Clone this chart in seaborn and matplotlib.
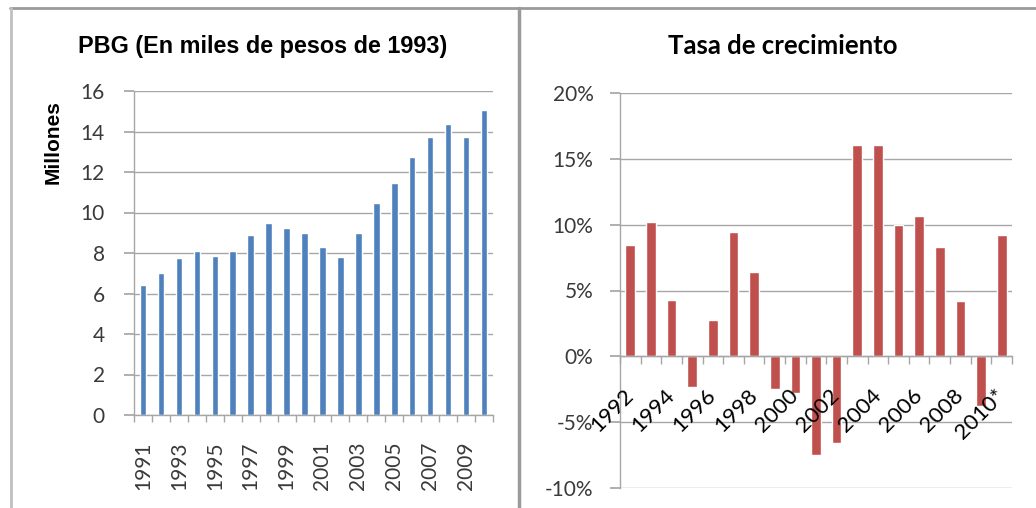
import matplotlib
matplotlib.use("Agg")
import matplotlib.pyplot as plt
import matplotlib.transforms as mtrans
import seaborn as sns
import numpy as np
import pandas as pd
from matplotlib.lines import Line2D

# ---------------- data ----------------
pbg_years = [str(y) for y in range(1991, 2011)]
pbg_values = [6.42, 7.03, 7.73, 8.09, 7.86, 8.12, 8.87, 9.46, 9.21, 9.01,
              8.32, 7.78, 9.01, 10.45, 11.47, 12.73, 13.75, 14.36, 13.75, 15.06]
pbg_yticks = [0, 2, 4, 6, 8, 10, 12, 14, 16]

tasa_years = [str(y) for y in range(1992, 2010)] + ["2010*"]
tasa_values = [8.44, 10.24, 4.31, -2.33, 2.79, 9.45, 6.44, -2.51, -2.76, -7.53,
               -6.62, 16.05, 16.05, 9.96, 10.67, 8.29, 4.18, -3.78, 9.20]
tasa_yticks = [-10, -5, 0, 5, 10, 15, 20]
tasa_yticklabels = ["-10%", "-5%", "0%", "5%", "10%", "15%", "20%"]

title_left = "PBG (En miles de pesos de 1993)"
title_right = "Tasa de crecimiento"
ylabel_left = "Millones"

BLUE = "#4F81BD"
RED = "#C0504D"
GRID = "#a6a6a6"
TXT = "#3a3a3a"

sns.set_theme(style="white")
plt.rcParams['font.family'] = ['Lato', 'DejaVu Sans']

W, H = 1036, 508
fig = plt.figure(figsize=(W / 100, H / 100), dpi=100)
fig.patch.set_facecolor("white")

def fx(px):
    return px / W

def fy(py):
    return 1 - py / H

# ---------------- frames ----------------
fc = "#9a9a9a"
fig.add_artist(Line2D([fx(10), 1], [fy(8), fy(8)], color=fc, lw=2, transform=fig.transFigure))
fig.add_artist(Line2D([fx(11), fx(11)], [fy(8), 0], color="#c0c0c0", lw=2, transform=fig.transFigure))
fig.add_artist(Line2D([fx(519), fx(519)], [fy(8), 0], color=fc, lw=2.5, transform=fig.transFigure))

# ---------------- left chart ----------------
axL = fig.add_axes([fx(134), fy(415), fx(493) - fx(134), fy(91) - fy(415)])
dfL = pd.DataFrame({"year": pbg_years, "value": pbg_values})
sns.barplot(data=dfL, x="year", y="value", color=BLUE, saturation=1, width=0.36, ax=axL)
axL.set_xlim(-0.5, len(pbg_years) - 0.5)
axL.set_ylim(0, 16)
axL.set_yticks(pbg_yticks)
axL.set_yticklabels([str(v) for v in pbg_yticks])
axL.grid(axis="y", color=GRID, lw=1)
axL.set_axisbelow(True)
for s in ["top", "right"]:
    axL.spines[s].set_visible(False)
for s in ["left", "bottom"]:
    axL.spines[s].set_color(GRID)
    axL.spines[s].set_linewidth(1)
maj = np.arange(0, len(pbg_years), 2)
axL.set_xticks(maj)
axL.set_xticklabels([pbg_years[i] for i in maj], rotation=90, fontsize=15, color=TXT)
axL.set_xticks(np.arange(-0.5, len(pbg_years)), minor=True)
axL.tick_params(axis="x", which="major", length=0, pad=19)
axL.tick_params(axis="x", which="minor", length=5, color=GRID, direction="out", bottom=True)
axL.tick_params(axis="y", length=7, color=GRID, direction="out", left=True, labelsize=15,
                labelcolor=TXT, pad=14)
axL.set_xlabel("")
axL.set_ylabel(ylabel_left, family=["Liberation Sans", "DejaVu Sans"], fontweight="bold",
               fontsize=15, color="black")
axL.yaxis.set_label_coords((63 - 134) / (493 - 134), (415 - 142) / (415 - 91))
fig.text(fx(263), fy(46), title_left, ha="center", va="center",
         family=["Liberation Sans", "DejaVu Sans"],
         fontweight="bold", fontsize=16.8, color="black")

# ---------------- right chart ----------------
axR = fig.add_axes([fx(620), fy(488), fx(1012) - fx(620), fy(93) - fy(488)])
dfR = pd.DataFrame({"year": tasa_years, "value": tasa_values})
sns.barplot(data=dfR, x="year", y="value", color=RED, saturation=1, width=0.47, ax=axR)
axR.set_xlim(-0.5, len(tasa_years) - 0.5)
axR.set_ylim(-10, 20)
axR.set_yticks(tasa_yticks)
axR.set_yticklabels(tasa_yticklabels)
axR.grid(axis="y", color=GRID, lw=1)
axR.set_axisbelow(True)
axR.xaxis.set_zorder(4)
for s in ["top", "right"]:
    axR.spines[s].set_visible(False)
axR.spines["bottom"].set_position(("data", 0))
for s in ["left", "bottom"]:
    axR.spines[s].set_color(GRID)
    axR.spines[s].set_linewidth(1)
majR = np.arange(0, len(tasa_years), 2)
axR.set_xticks(majR)
axR.set_xticklabels([tasa_years[i] for i in majR], rotation=45, ha="right",
                    rotation_mode="default", fontsize=16, color="black")
axR.set_xticks(np.arange(-0.5, len(tasa_years)), minor=True)
axR.tick_params(axis="x", which="major", length=0, pad=21)
axR.tick_params(axis="x", which="minor", length=6, color=GRID, direction="out", bottom=True)
axR.tick_params(axis="y", length=7, color=GRID, direction="out", left=True, labelsize=15,
                labelcolor=TXT, pad=12)
shift = mtrans.ScaledTranslation(7 / 100, 0, fig.dpi_scale_trans)
for lab in axR.get_xticklabels():
    lab.set_transform(lab.get_transform() + shift)
axR.set_xlabel("")
axR.set_ylabel("")
fig.text(fx(783), fy(46), title_right, ha="center", va="center",
         fontweight="bold", fontsize=18.5, color="black")

fig.savefig("out.png", dpi=100, facecolor="white")
